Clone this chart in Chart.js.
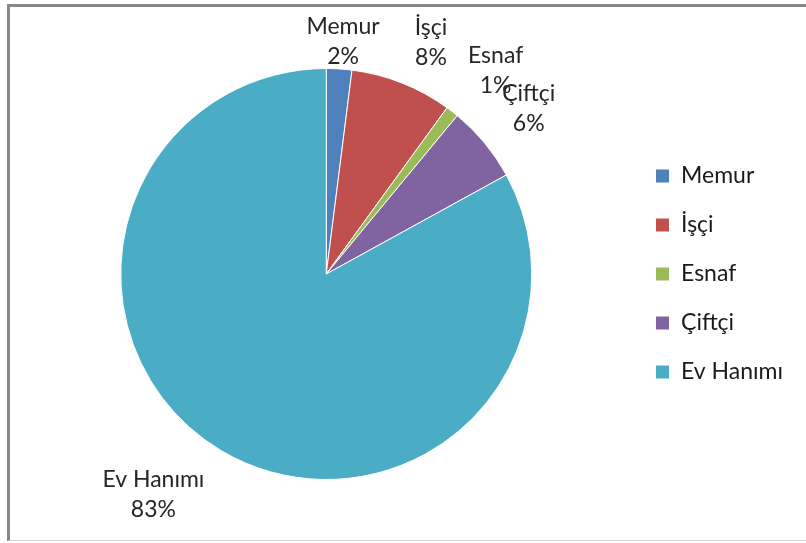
<!DOCTYPE html>
<html>
<head>
<meta charset="utf-8">
<script src="https://cdn.jsdelivr.net/npm/chart.js@4"></script>
<style>
  html, body { margin: 0; padding: 0; background: #fff; }
  #wrap { position: relative; width: 806px; height: 543px; overflow: hidden; }
  #frame {
    position: absolute; left: 7px; top: 4px; right: -10px; height: 533px;
    border-top: 3px solid #878787; border-left: 3px solid #878787; border-bottom: 1px solid #d4d4d4;
  }
  canvas { position: absolute; left: 0; top: 0; }
</style>
</head>
<body>
<div id="wrap">
  <div id="frame"></div>
  <canvas id="occupation-chart" width="806" height="543"></canvas>
</div>
<script>
const labels = ['Memur', 'İşçi', 'Esnaf', 'Çiftçi', 'Ev Hanımı'];
const shares = [2, 8, 1, 6, 83];
const colors = ['#4F81BD', '#C0504D', '#9BBB59', '#8064A2', '#4BACC6'];

// nudges for the outside labels, Excel doesn't place them on the mid-angle exactly
const labelShift = [[2, 3], [18, -12], [25, -17], [21, -15], [-53, 18]];

const outsideLabels = {
    id: 'outsideLabels',
    afterDatasetsDraw(chart) {
        const ctx = chart.ctx;
        const meta = chart.getDatasetMeta(0);
        const data = chart.data.datasets[0].data;
        const total = data.reduce((a, b) => a + b, 0);
        ctx.save();
        ctx.font = '23px Lato';
        ctx.fillStyle = '#262626';
        ctx.textAlign = 'center';
        ctx.textBaseline = 'middle';
        meta.data.forEach((arc, i) => {
            const p = arc.getProps(['x', 'y', 'startAngle', 'endAngle', 'outerRadius'], true);
            const mid = (p.startAngle + p.endAngle) / 2;
            const r = p.outerRadius + 30;
            const x = p.x + Math.cos(mid) * r + labelShift[i][0];
            const y = p.y + Math.sin(mid) * r + labelShift[i][1];
            ctx.fillText(chart.data.labels[i], x, y - 15);
            ctx.fillText(Math.round(data[i] / total * 100) + '%', x, y + 15);
        });
        ctx.restore();
    }
};

let occupationChart = new Chart(document.getElementById('occupation-chart').getContext('2d'), {
    type: 'pie',
    data: {
        labels: labels,
        datasets: [{
            data: shares,
            backgroundColor: colors,
            borderColor: '#ffffff',
            borderWidth: 1
        }]
    },
    options: {
        responsive: false,
        animation: false,
        layout: {
            padding: { left: 23, right: 13, top: 68, bottom: 63 }
        },
        plugins: {
            legend: {
                position: 'right',
                labels: {
                    boxWidth: 14,
                    boxHeight: 14,
                    padding: 26,
                    color: '#1a1a1a',
                    font: { family: 'Lato', size: 23 }
                }
            },
            tooltip: { enabled: false }
        }
    },
    plugins: [outsideLabels]
});
</script>
</body>
</html>
